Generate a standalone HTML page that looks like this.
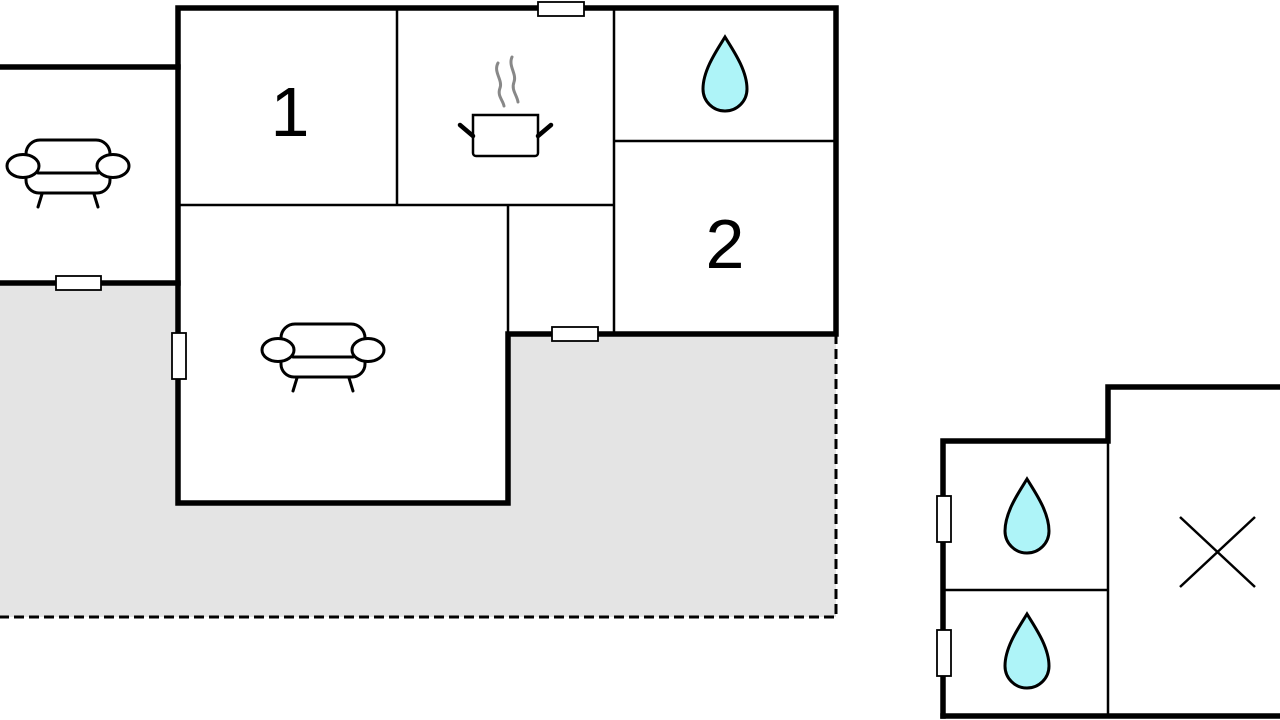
<!DOCTYPE html>
<html><head><style>html,body{margin:0;padding:0;background:#fff;}svg{display:block}</style></head>
<body>
<svg width="1280" height="720" viewBox="0 0 1280 720" xmlns="http://www.w3.org/2000/svg">
<defs>
<g id="sofa" fill="none" stroke="#000" stroke-width="3" stroke-linecap="round">
  <path d="M-42,2 V14 a13,13 0 0 0 13,13 H29 a13,13 0 0 0 13,-13 V2" fill="#fff"/>
  <path d="M-42,4 V-12 a14,14 0 0 1 14,-14 H28 a14,14 0 0 1 14,14 V4" fill="#fff"/>
  <line x1="-30" y1="7" x2="30" y2="7"/>
  <ellipse cx="-45" cy="0" rx="16" ry="11.5" fill="#fff"/>
  <ellipse cx="45" cy="0" rx="16" ry="11.5" fill="#fff"/>
  <line x1="-26" y1="28" x2="-30" y2="41"/>
  <line x1="26" y1="28" x2="30" y2="41"/>
</g>
<path id="drop" d="M0,-38 C-8,-25 -22,-5 -22,14 a22,22 0 0 0 44,0 C22,-5 8,-25 0,-38 Z" fill="#aef4f8" stroke="#000" stroke-width="3"/>
</defs>
<polygon points="0,283 178,283 178,503 508,503 508,334 836,334 836,617 0,617" fill="#e4e4e4"/>
<path d="M836,334 V617 H0" fill="none" stroke="#000" stroke-width="3" stroke-dasharray="10,5"/>
<g stroke="#000" stroke-width="2.5" fill="none">
  <line x1="397" y1="8" x2="397" y2="205"/>
  <line x1="178" y1="205" x2="614" y2="205"/>
  <line x1="614" y1="8" x2="614" y2="334"/>
  <line x1="508" y1="205" x2="508" y2="334"/>
  <line x1="614" y1="141" x2="836" y2="141"/>
  <line x1="1108" y1="441" x2="1108" y2="716"/>
  <line x1="943" y1="590" x2="1108" y2="590"/>
  <line x1="1180" y1="517" x2="1255" y2="587"/>
  <line x1="1255" y1="517" x2="1180" y2="587"/>
</g>
<g stroke="#000" stroke-width="5.5" fill="none" stroke-linecap="square">
  <path d="M178,503 V8 H836 V334 H508 V503 Z"/>
  <path d="M0,67 H178"/>
  <path d="M0,283 H178"/>
  <path d="M943,716 V441 H1108 V387 H1280"/>
  <path d="M943,716 H1280"/>
</g>
<g fill="#fff" stroke="#000" stroke-width="1.8">
  <rect x="538" y="2" width="46" height="14"/>
  <rect x="552" y="327" width="46" height="14"/>
  <rect x="172" y="333" width="14" height="46"/>
  <rect x="56" y="276" width="45" height="14"/>
  <rect x="937" y="496" width="14" height="46"/>
  <rect x="937" y="630" width="14" height="46"/>
</g>
<text x="290" y="136" font-family="Liberation Sans, sans-serif" font-size="70" text-anchor="middle">1</text>
<text x="725" y="268" font-family="Liberation Sans, sans-serif" font-size="70" text-anchor="middle">2</text>
<use href="#sofa" x="323" y="350"/>
<use href="#sofa" x="68" y="166"/>
<use href="#drop" x="725" y="75"/>
<use href="#drop" x="1027" y="517"/>
<use href="#drop" x="1027" y="652"/>
<g fill="none" stroke-linecap="round">
  <path d="M498,63 C493,72 503,80 500,88 C497,96 503,100 504,106" stroke="#888" stroke-width="3"/>
  <path d="M512,57 C508,66 517,74 514,82 C511,90 517,95 518,102" stroke="#888" stroke-width="3"/>
  <path d="M473,115 V153 a3,3 0 0 0 3,3 H535 a3,3 0 0 0 3,-3 V115 Z" stroke="#000" stroke-width="2.5" fill="#fff"/>
  <line x1="473" y1="136" x2="460" y2="125" stroke="#000" stroke-width="4.5"/>
  <line x1="538" y1="136" x2="551" y2="125" stroke="#000" stroke-width="4.5"/>
</g>
</svg>
</body></html>
